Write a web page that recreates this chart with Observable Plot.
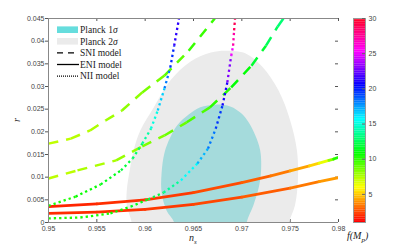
<!DOCTYPE html>
<html><head><meta charset="utf-8">
<script src="https://cdn.jsdelivr.net/npm/d3@7"></script>
<script src="https://cdn.jsdelivr.net/npm/@observablehq/plot@0.6"></script>
<style>
body{margin:0;background:#fff;}
#wrap{position:relative;width:415px;height:250px;overflow:hidden;}
#wrap svg{position:absolute;top:0;}
.lbl{position:absolute;font-family:"Liberation Serif","DejaVu Serif",serif;font-style:italic;color:#222;white-space:nowrap;line-height:1;}
.lbl sub{font-size:70%;}
</style></head><body><div id="wrap"></div>
<script>
// ---- ticks ----
const xTicks = [0.95, 0.955, 0.96, 0.965, 0.97, 0.975, 0.98];
const xTickLabels = ["0.95", "0.955", "0.96", "0.965", "0.97", "0.975", "0.98"];
const yTicks = [0, 0.005, 0.01, 0.015, 0.02, 0.025, 0.03, 0.035, 0.04, 0.045];
const yTickLabels = ["0", "0.005", "0.01", "0.015", "0.02", "0.025", "0.03", "0.035", "0.04", "0.045"];
const fTicks = [5, 10, 15, 20, 25, 30];
const fTickLabels = ["5", "10", "15", "20", "25", "30"];

// ---- Planck contours [n_s, r] ----
const planck2sigma = [[0.9586,-0.003],[0.9586,0],[0.9581,0.0038],[0.9581,0.0071],[0.9584,0.0115],[0.9588,0.0159],[0.9595,0.0203],[0.9609,0.0254],[0.9626,0.0313],[0.9647,0.0355],[0.9668,0.0375],[0.9683,0.0379],[0.9704,0.0373],[0.9721,0.0344],[0.9738,0.0291],[0.9750,0.0225],[0.9757,0.0159],[0.9758,0.0093],[0.9755,0.0038],[0.9749,0],[0.9749,-0.003]];
const planck1sigma = [[0.9630,-0.003],[0.9630,0],[0.9622,0.0027],[0.9617,0.0066],[0.9617,0.0110],[0.9620,0.0154],[0.9626,0.0188],[0.9633,0.0214],[0.9645,0.0238],[0.9657,0.0254],[0.9673,0.0260],[0.9688,0.0256],[0.9700,0.0240],[0.9707,0.0221],[0.9714,0.0192],[0.9719,0.0159],[0.9720,0.0121],[0.9718,0.0082],[0.9712,0.0038],[0.9705,0],[0.9705,-0.003]];

// ---- model curves [n_s, r, f(M_p)] ----
const sniUpper = [[0.950,0.0174,7],[0.9523,0.0185,7.1],[0.9543,0.0203,7.3],[0.9559,0.0225,7.5],[0.9576,0.0247,7.8],[0.9597,0.0287,8.2],[0.9620,0.0324,8.6],[0.9645,0.0379,9.2],[0.9672,0.045,10]];
const sniLower = [[0.950,0.0097,7],[0.9530,0.0115,7.2],[0.9570,0.0137,7.6],[0.9597,0.0168,8],[0.9620,0.0192,8.4],[0.9643,0.0221,8.9],[0.9667,0.0254,9.5],[0.9689,0.0298,10.3],[0.9710,0.0346,11.2],[0.9725,0.0390,12],[0.9737,0.0432,12.7],[0.9743,0.045,13]];
const eniUpper = [[0.950,0.0035,1.6],[0.955,0.0041,1.8],[0.960,0.0050,2],[0.965,0.0066,2.2],[0.970,0.0088,2.6],[0.973,0.0103,3],[0.975,0.0114,3.6],[0.977,0.0125,4.5],[0.978,0.0131,5.5],[0.979,0.0137,7],[0.9795,0.0140,9],[0.980,0.0144,11]];
const eniLower = [[0.950,0.0020,1.8],[0.955,0.0023,1.9],[0.960,0.0029,2],[0.965,0.0040,2.2],[0.970,0.0056,2.5],[0.975,0.0076,3],[0.978,0.0090,3.6],[0.980,0.0099,4.2]];
const niiUpper = [[0.950,0.0037,10],[0.9528,0.0057,10.3],[0.9554,0.0084,10.8],[0.9575,0.0115,11.5],[0.9587,0.0141,12.2],[0.9597,0.0174,13.2],[0.9606,0.0207,14.3],[0.9613,0.0247,15.6],[0.9620,0.0296,17.2],[0.9626,0.0342,18.8],[0.9630,0.0390,20.3],[0.9635,0.045,22]];
const niiLower = [[0.950,0.0009,10],[0.9533,0.0011,10.1],[0.9564,0.0020,10.4],[0.9585,0.0035,10.8],[0.9603,0.0051,11.5],[0.9619,0.0066,12.5],[0.9637,0.0093,14.5],[0.9654,0.0130,16.3],[0.9665,0.0163,17.5],[0.9673,0.0207,18.7],[0.9680,0.0258,20],[0.9685,0.0309,21.5],[0.9689,0.0368,24],[0.9691,0.0390,26],[0.9692,0.0424,28],[0.9693,0.045,29.5]];

// ---- colours ----
const colorScale = {type: "linear", domain: [1, 5.833, 10.667, 15.5, 20.333, 25.167, 30],
  range: ["#ff0000", "#ffff00", "#00ff00", "#00ffff", "#0000ff", "#ff00ff", "#ff0018"], interpolate: "rgb"};

const segs = (pts) => pts.slice(1).map((p, i) => ({x1: pts[i][0], y1: pts[i][1], x2: p[0], y2: p[1], f: (pts[i][2] + p[2]) / 2}));
const curve = (name, pts, opts) => Plot.link(segs(pts), {x1: "x1", y1: "y1", x2: "x2", y2: "y2", stroke: "f", clip: true, ariaLabel: name, ...opts});
const dashed = {strokeWidth: 2.5, strokeDasharray: "10,8"};
const solid = {strokeWidth: 2.8, strokeLinecap: "round"};
const dotted = {strokeWidth: 2.3, strokeDasharray: "2.3,3"};
const axisGray = "#888";

const main = Plot.plot({
  width: 415, height: 250, marginLeft: 48, marginRight: 77, marginTop: 18, marginBottom: 28,
  x: {domain: [0.95, 0.98]}, y: {domain: [0, 0.045]}, color: colorScale,
  style: {fontFamily: "'Liberation Sans', Arial, sans-serif", fontSize: "7px", color: "#444", background: "transparent", overflow: "visible"},
  marks: [
    Plot.tickX(xTicks, {insetTop: 201, stroke: "#555"}),
    Plot.tickX(xTicks, {insetBottom: 201, stroke: "#555"}),
    Plot.tickY(yTicks, {insetLeft: 287, stroke: "#555"}),
    Plot.line(planck2sigma, {x: d => d[0], y: d => d[1], fill: "#ebebeb", stroke: null, curve: "catmull-rom-closed", clip: true}),
    Plot.line(planck1sigma, {x: d => d[0], y: d => d[1], fill: "#a5dbdc", stroke: null, curve: "catmull-rom-closed", clip: true}),
    curve("sniUpper", sniUpper, dashed), curve("sniLower", sniLower, dashed),
    curve("eniUpper", eniUpper, solid), curve("eniLower", eniLower, solid),
    curve("niiUpper", niiUpper, dotted), curve("niiLower", niiLower, dotted),
    Plot.ruleY([0, 0.045], {stroke: axisGray}),
    Plot.ruleX([0.95], {stroke: axisGray}),
    Plot.axisX({ticks: xTicks, tickFormat: d => xTickLabels[xTicks.indexOf(d)], tickSize: 0, tickPadding: 4, label: null}),
    Plot.axisY({ticks: yTicks, tickFormat: d => yTickLabels[yTicks.indexOf(d)], tickSize: 3, tickPadding: 1, label: null, stroke: "#555"})
  ]
});
main.style.left = "0px";

const cbStops = d3.range(1, 30, 0.25);
const cbar = Plot.plot({
  width: 75, height: 250, marginLeft: 13, marginRight: 50, marginTop: 18, marginBottom: 28,
  x: {domain: [0, 1], axis: null}, y: {domain: [1, 30]}, color: colorScale,
  style: {fontFamily: "'Liberation Sans', Arial, sans-serif", fontSize: "7px", color: "#444", background: "transparent", overflow: "visible"},
  marks: [
    Plot.rect(cbStops, {x1: 0, x2: 1, y1: d => d, y2: d => Math.min(d + 0.27, 30), fill: d => d}),
    Plot.frame({stroke: "#999"}),
    Plot.tickY(fTicks, {insetLeft: 9, stroke: "#666"}),
    Plot.axisY({anchor: "right", ticks: fTicks, tickFormat: d => fTickLabels[fTicks.indexOf(d)], tickSize: 0, tickPadding: 3, label: null})
  ]
});
cbar.style.left = "340px";

const wrap = document.getElementById("wrap");
wrap.appendChild(main);
wrap.appendChild(cbar);

// keep dash patterns continuous across the coloured segments of each curve
["sniUpper", "sniLower", "niiUpper", "niiLower"].forEach(name => {
  let cum = 0;
  main.querySelectorAll(`g[aria-label="${name}"] path`).forEach(p => {
    p.setAttribute("stroke-dashoffset", cum);
    cum += p.getTotalLength();
  });
});

// ---- legend ----
const legendItems = [
  {label: "Planck 1", sigma: true, kind: "patch", color: "#66dddd"},
  {label: "Planck 2", sigma: true, kind: "patch", color: "#ebebeb"},
  {label: "SNI model", kind: "line", dash: "6,5"},
  {label: "ENI model", kind: "line", dash: null},
  {label: "NII model", kind: "line", dash: "1,1"}
];
const lg = d3.create("svg").attr("width", 415).attr("height", 250).style("left", "0px").style("pointer-events", "none");
legendItems.forEach((it, i) => {
  const cy = 29.7 + i * 11.6;
  if (it.kind === "patch") {
    lg.append("rect").attr("x", 57).attr("y", cy - 3.3).attr("width", 21).attr("height", 6.6).attr("fill", it.color);
  } else {
    lg.append("line").attr("x1", 57).attr("x2", it.dash === "6,5" ? 74 : 79).attr("y1", cy).attr("y2", cy)
      .attr("stroke", "#000").attr("stroke-width", 1.3).attr("stroke-dasharray", it.dash);
  }
  const t = lg.append("text").attr("x", 80).attr("y", cy).attr("dy", "0.35em")
    .attr("font-family", "'Liberation Serif','DejaVu Serif',serif").attr("font-size", 9.5).attr("fill", "#222").text(it.label);
  if (it.sigma) t.append("tspan").attr("font-style", "italic").text("σ");
});
wrap.appendChild(lg.node());

// ---- axis labels ----
function addLabel(html, left, top, size, rotate) {
  const d = document.createElement("div");
  d.className = "lbl"; d.innerHTML = html;
  d.style.left = left + "px"; d.style.top = top + "px"; d.style.fontSize = size + "px";
  if (rotate) d.style.transform = "rotate(-90deg)";
  wrap.appendChild(d);
}
addLabel("r", 15, 115, 10, true);
addLabel("n<sub>s</sub>", 189, 233, 10, false);
addLabel("f(M<sub>p</sub>)", 347, 231, 10, false);
</script></body></html>
